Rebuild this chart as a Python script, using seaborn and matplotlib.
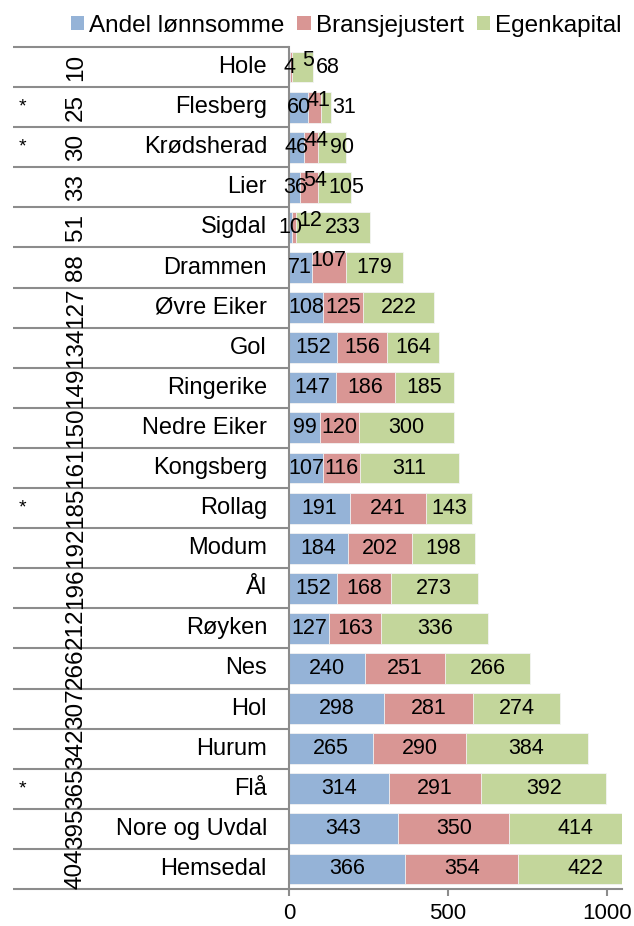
import numpy as np
import pandas as pd
import matplotlib.pyplot as plt
import matplotlib.transforms as mtransforms
from matplotlib.patches import Patch
import seaborn as sns

# data (top to bottom)
kommuner = ["Hole", "Flesberg", "Krødsherad", "Lier", "Sigdal", "Drammen",
            "Øvre Eiker", "Gol", "Ringerike", "Nedre Eiker", "Kongsberg",
            "Rollag", "Modum", "Ål", "Røyken", "Nes", "Hol", "Hurum", "Flå",
            "Nore og Uvdal", "Hemsedal"]
rangering = [10, 25, 30, 33, 51, 88, 127, 134, 149, 150, 161, 185, 192, 196,
             212, 266, 307, 342, 365, 395, 404]
stjerne = ["", "*", "*", "", "", "", "", "", "", "", "", "*", "", "", "", "",
           "", "", "*", "", ""]
andel_lonnsomme = [4, 60, 46, 36, 10, 71, 108, 152, 147, 99, 107, 191, 184,
                   152, 127, 240, 298, 265, 314, 343, 366]
bransjejustert = [5, 41, 44, 54, 12, 107, 125, 156, 186, 120, 116, 241, 202,
                  168, 163, 251, 281, 290, 291, 350, 354]
egenkapital = [68, 31, 90, 105, 233, 179, 222, 164, 185, 300, 311, 143, 198,
               273, 336, 266, 274, 384, 392, 414, 422]
serier = ["Andel lønnsomme", "Bransjejustert", "Egenkapital"]
farger = ["#95B3D7", "#D99694", "#C3D69B"]

sns.set_theme(style="white")
plt.rcParams["font.family"] = ["Liberation Sans", "DejaVu Sans"]
plt.rcParams["text.color"] = "black"
plt.rcParams["xtick.labelcolor"] = "black"

df = pd.DataFrame({
    "kommune": kommuner,
    "blaa": andel_lonnsomme,
    "rod": np.add(andel_lonnsomme, bransjejustert),
    "total": np.add(np.add(andel_lonnsomme, bransjejustert), egenkapital),
})

fig = plt.figure(figsize=(6.34, 9.26), dpi=100)
ax = fig.add_axes([289 / 634, 37 / 926, 333 / 634, 842 / 926])

# stacked bars: draw cumulative totals on top of each other
for kol, farge in zip(["total", "rod", "blaa"], farger[::-1]):
    sns.barplot(data=df, x=kol, y="kommune", orient="h", color=farge,
                saturation=1, width=0.77, edgecolor="#f4f4f4", linewidth=0.6,
                ax=ax)

ax.set_xlim(0, 1047)
ax.set_ylim(len(kommuner) - 0.5, -0.5)
ax.set_xlabel("")
ax.set_ylabel("")
ax.set_yticks([])
ax.set_xticks([0, 500, 1000])
ax.tick_params(axis="x", direction="out", length=5, width=1.5, color="#8c8c8c",
               labelsize=16, pad=5, bottom=True, labelcolor="black")
for s in ["top", "right"]:
    ax.spines[s].set_visible(False)
for s in ["left", "bottom"]:
    ax.spines[s].set_color("#8c8c8c")
    ax.spines[s].set_linewidth(1.5)

# value labels, nudged apart where the segments are too narrow
x0, x1 = ax.transData.transform([(0, 0), (1, 0)])[:, 0]
ppu = x1 - x0
digit_px = 0.556 * 15.5 * 100 / 72
for i in range(len(kommuner)):
    vals = [andel_lonnsomme[i], bransjejustert[i], egenkapital[i]]
    starts = np.concatenate([[0], np.cumsum(vals)[:-1]])
    c = [(s + v / 2) * ppu for s, v in zip(starts, vals)]
    w = [len(str(v)) * digit_px for v in vals]
    hevet = w[1] > vals[1] * ppu
    pos = list(c)
    if hevet:
        pos[1] = max(c[1], pos[0] + max((w[0] + w[1]) / 2 - 4, 18))
        pos[2] = max(c[2], pos[1] + (w[1] + w[2]) / 2 + 2)
    for k in range(3):
        y = i - 0.17 if (k == 1 and hevet) else i
        ax.text(pos[k] / ppu, y, str(vals[k]), ha="center", va="center",
                fontsize=15.5, color="black")

# table on the left: star, rank (rotated), name, with row lines
blend = mtransforms.blended_transform_factory(fig.transFigure, ax.transData)
for b in np.arange(-0.5, len(kommuner), 1.0):
    ax.plot([13 / 634, 289 / 634], [b, b], transform=blend, clip_on=False,
            color="#8c8c8c", lw=1.5, solid_capstyle="butt")
for i, (navn, r, st) in enumerate(zip(kommuner, rangering, stjerne)):
    ax.text(267 / 634, i, navn, transform=blend, ha="right", va="center",
            fontsize=17)
    ax.text(76 / 634, i, str(r), transform=blend, ha="center", va="center",
            rotation=90, fontsize=17.5)
    if st:
        ax.text(22 / 634, i, st, transform=blend, ha="center", va="center",
                fontsize=14)

handles = [Patch(facecolor=f, edgecolor="none") for f in farger]
fig.legend(handles, serier, loc="upper center", bbox_to_anchor=(0.546, 1.0),
           ncol=3, frameon=False, fontsize=17.5, handlelength=0.55,
           handleheight=0.55, handletextpad=0.2, columnspacing=0.55,
           borderaxespad=0.2)

fig.savefig("out.png", dpi=100)
